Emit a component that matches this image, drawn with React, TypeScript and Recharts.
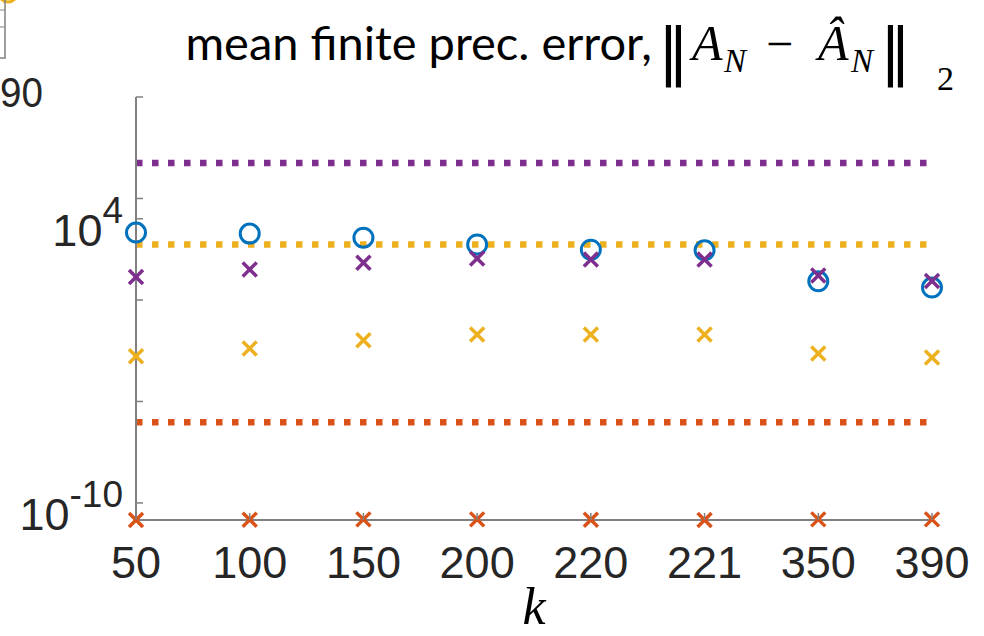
import { ComposedChart, Line, XAxis, YAxis } from 'recharts'

const WIDTH = 984
const HEIGHT = 636

const COLORS = {
  blue: '#0072BD',
  orange: '#D95319',
  yellow: '#EDB120',
  purple: '#7E2F8E',
}

const AXIS_GREY = '#808080'
const TEXT_DARK = '#262626'
const TICK_LEN = 7

// k values on the categorical x axis
const K_VALUES = ['50', '100', '150', '200', '220', '221', '350', '390']

// per-k errors (log y axis)
const BLUE_CIRCLES = [2100, 1860, 1170, 540, 300, 280, 8.3, 4.1]
const PURPLE_CROSSES = [13.5, 32, 69, 110, 98, 98, 16, 8.7]
const YELLOW_CROSSES = [1.7e-3, 4.1e-3, 1.05e-2, 0.02, 0.02, 0.02, 2.3e-3, 1.45e-3]
const ORANGE_CROSSES = [1.46e-11, 1.5e-11, 1.55e-11, 1.55e-11, 1.5e-11, 1.46e-11, 1.55e-11, 1.55e-11]

// constant reference levels drawn as dotted lines
const PURPLE_LEVEL = 5.6e6
const YELLOW_LEVEL = 540
const ORANGE_LEVEL = 9.5e-7

const Y_MIN = 1.445e-11
const Y_MAX = 1e10
const Y_TICKS = [1e-10, 1e-5, 1, 1e4, 1e5, 1e10]
const Y_LABELED_EXPONENTS = [4, -10]

const data = K_VALUES.map((k, i) => ({
  k,
  circle: BLUE_CIRCLES[i],
  purple: PURPLE_CROSSES[i],
  yellow: YELLOW_CROSSES[i],
  orange: ORANGE_CROSSES[i],
  purpleLevel: PURPLE_LEVEL,
  yellowLevel: YELLOW_LEVEL,
  orangeLevel: ORANGE_LEVEL,
}))

const CircleDot = (props: any) => {
  const { cx, cy, index } = props
  if (cx == null || cy == null) return <g key={`c-${index}`} />
  return <circle key={`c-${index}`} cx={cx} cy={cy} r={9.5} fill="none" stroke={COLORS.blue} strokeWidth={3} />
}

const crossDot = (color: string) => (props: any) => {
  const { cx, cy, index } = props
  if (cx == null || cy == null) return <g key={`x-${index}`} />
  const h = 7
  return (
    <g key={`x-${index}`}>
      <line x1={cx - h} y1={cy - h} x2={cx + h} y2={cy + h} stroke={color} strokeWidth={3.5} />
      <line x1={cx - h} y1={cy + h} x2={cx + h} y2={cy - h} stroke={color} strokeWidth={3.5} />
    </g>
  )
}

const SANS = "'Liberation Sans', Arial, sans-serif"
const SERIF = "'Liberation Serif', 'Times New Roman', serif"

const BottomTick = ({ x, y, payload }: any) => (
  <g>
    <line x1={x} y1={y} x2={x} y2={y - TICK_LEN} stroke={AXIS_GREY} strokeWidth={1.5} />
    <text x={x} y={y + 58} textAnchor="middle" fontFamily={SANS} fontSize={45} fill={TEXT_DARK}>
      {payload.value}
    </text>
  </g>
)

const TopTick = ({ x, y }: any) => (
  <line x1={x} y1={y} x2={x} y2={y + TICK_LEN} stroke={AXIS_GREY} strokeWidth={1.5} />
)

const LeftTick = ({ x, y, payload }: any) => {
  const exp = Math.round(Math.log10(payload.value))
  const labeled = Y_LABELED_EXPONENTS.includes(exp)
  return (
    <g>
      <line x1={x} y1={y} x2={x + TICK_LEN} y2={y} stroke={AXIS_GREY} strokeWidth={1.5} />
      {labeled && (
        <text x={x - 13} y={y + 27} textAnchor="end" fontFamily={SANS} fontSize={45} fill={TEXT_DARK}>
          10
          <tspan dy={-23} fontSize={37}>{String(exp)}</tspan>
        </text>
      )}
    </g>
  )
}

const RightTick = ({ x, y }: any) => (
  <line x1={x} y1={y} x2={x - TICK_LEN} y2={y} stroke={AXIS_GREY} strokeWidth={1.5} />
)

const dotted = { strokeWidth: 6.5, strokeDasharray: '6.5 9.5', dot: false, activeDot: false, isAnimationActive: false }

function Title() {
  return (
    <g fill="#000">
      <text x={652} y={60} textAnchor="end" fontFamily="Lato, sans-serif" fontSize={47}>
        mean finite prec. error,
      </text>
      <text x={658} y={72} fontFamily="'DejaVu Sans', sans-serif" fontSize={62}>‖</text>
      <text x={692} y={60} fontFamily={SERIF} fontStyle="italic" fontSize={50}>A</text>
      <text x={724} y={72} fontFamily={SERIF} fontStyle="italic" fontSize={33}>N</text>
      <text x={766} y={60} fontFamily={SERIF} fontSize={48}>−</text>
      <text x={818} y={60} fontFamily={SERIF} fontStyle="italic" fontSize={50}>Â</text>
      <text x={851} y={72} fontFamily={SERIF} fontStyle="italic" fontSize={33}>N</text>
      <text x={880} y={72} fontFamily="'DejaVu Sans', sans-serif" fontSize={62}>‖</text>
      <text x={937} y={90} fontFamily={SERIF} fontSize={34}>2</text>
    </g>
  )
}

// corner of the neighbouring panel peeking in at the top left
function NeighbourPanel() {
  return (
    <g>
      <circle cx={8} cy={-7} r={9} fill="none" stroke={COLORS.yellow} strokeWidth={3} />
      <polyline points="5,-2 5,58 -2,58" fill="none" stroke={AXIS_GREY} strokeWidth={1.5} />
      <line x1={5} y1={10} x2={0} y2={10} stroke={AXIS_GREY} strokeWidth={1} />
      <line x1={5} y1={27} x2={0} y2={27} stroke={AXIS_GREY} strokeWidth={1} />
      <text x={0} y={107} textLength={43} lengthAdjust="spacingAndGlyphs" fontFamily={SANS} fontSize={43} fill={TEXT_DARK}>
        90
      </text>
    </g>
  )
}

export default function App() {
  return (
    <div style={{ position: 'absolute', left: 0, top: 0, width: WIDTH, height: HEIGHT, background: '#fff' }}>
      <ComposedChart width={WIDTH} height={HEIGHT} data={data} margin={{ top: 97, right: 52, bottom: 56, left: 0 }}>
        <XAxis
          dataKey="k"
          type="category"
          scale="point"
          padding={{ left: 0, right: 0 }}
          height={60}
          interval={0}
          tickSize={0}
          tickMargin={0}
          tickLine={false}
          tick={<BottomTick />}
          axisLine={{ stroke: AXIS_GREY, strokeWidth: 2 }}
        />
        <XAxis
          xAxisId="top"
          orientation="top"
          dataKey="k"
          type="category"
          scale="point"
          padding={{ left: 0, right: 0 }}
          height={0}
          interval={0}
          tickSize={0}
          tickMargin={0}
          tickLine={false}
          tick={<TopTick />}
          axisLine={{ stroke: AXIS_GREY, strokeWidth: 2 }}
        />
        <YAxis
          type="number"
          scale="log"
          domain={[Y_MIN, Y_MAX]}
          ticks={Y_TICKS}
          interval={0}
          width={136}
          tickSize={0}
          tickMargin={0}
          tickLine={false}
          tick={<LeftTick />}
          axisLine={{ stroke: AXIS_GREY, strokeWidth: 2 }}
        />
        <YAxis
          yAxisId="right"
          orientation="right"
          type="number"
          scale="log"
          domain={[Y_MIN, Y_MAX]}
          ticks={Y_TICKS}
          interval={0}
          width={0}
          tickSize={0}
          tickMargin={0}
          tickLine={false}
          tick={<RightTick />}
          axisLine={{ stroke: AXIS_GREY, strokeWidth: 2 }}
        />
        <Line dataKey="purpleLevel" stroke={COLORS.purple} {...dotted} />
        <Line dataKey="yellowLevel" stroke={COLORS.yellow} {...dotted} />
        <Line dataKey="orangeLevel" stroke={COLORS.orange} {...dotted} />
        <Line dataKey="circle" stroke="none" dot={CircleDot} activeDot={false} isAnimationActive={false} />
        <Line dataKey="yellow" stroke="none" dot={crossDot(COLORS.yellow)} activeDot={false} isAnimationActive={false} />
        <Line dataKey="purple" stroke="none" dot={crossDot(COLORS.purple)} activeDot={false} isAnimationActive={false} />
        <Line dataKey="orange" stroke="none" dot={crossDot(COLORS.orange)} activeDot={false} isAnimationActive={false} />
      </ComposedChart>
      <svg width={WIDTH} height={HEIGHT} style={{ position: 'absolute', left: 0, top: 0, pointerEvents: 'none' }}>
        <NeighbourPanel />
        <Title />
        <text x={534} y={624} textAnchor="middle" fontFamily={SERIF} fontStyle="italic" fontSize={52} fill="#000">
          k
        </text>
      </svg>
    </div>
  )
}
